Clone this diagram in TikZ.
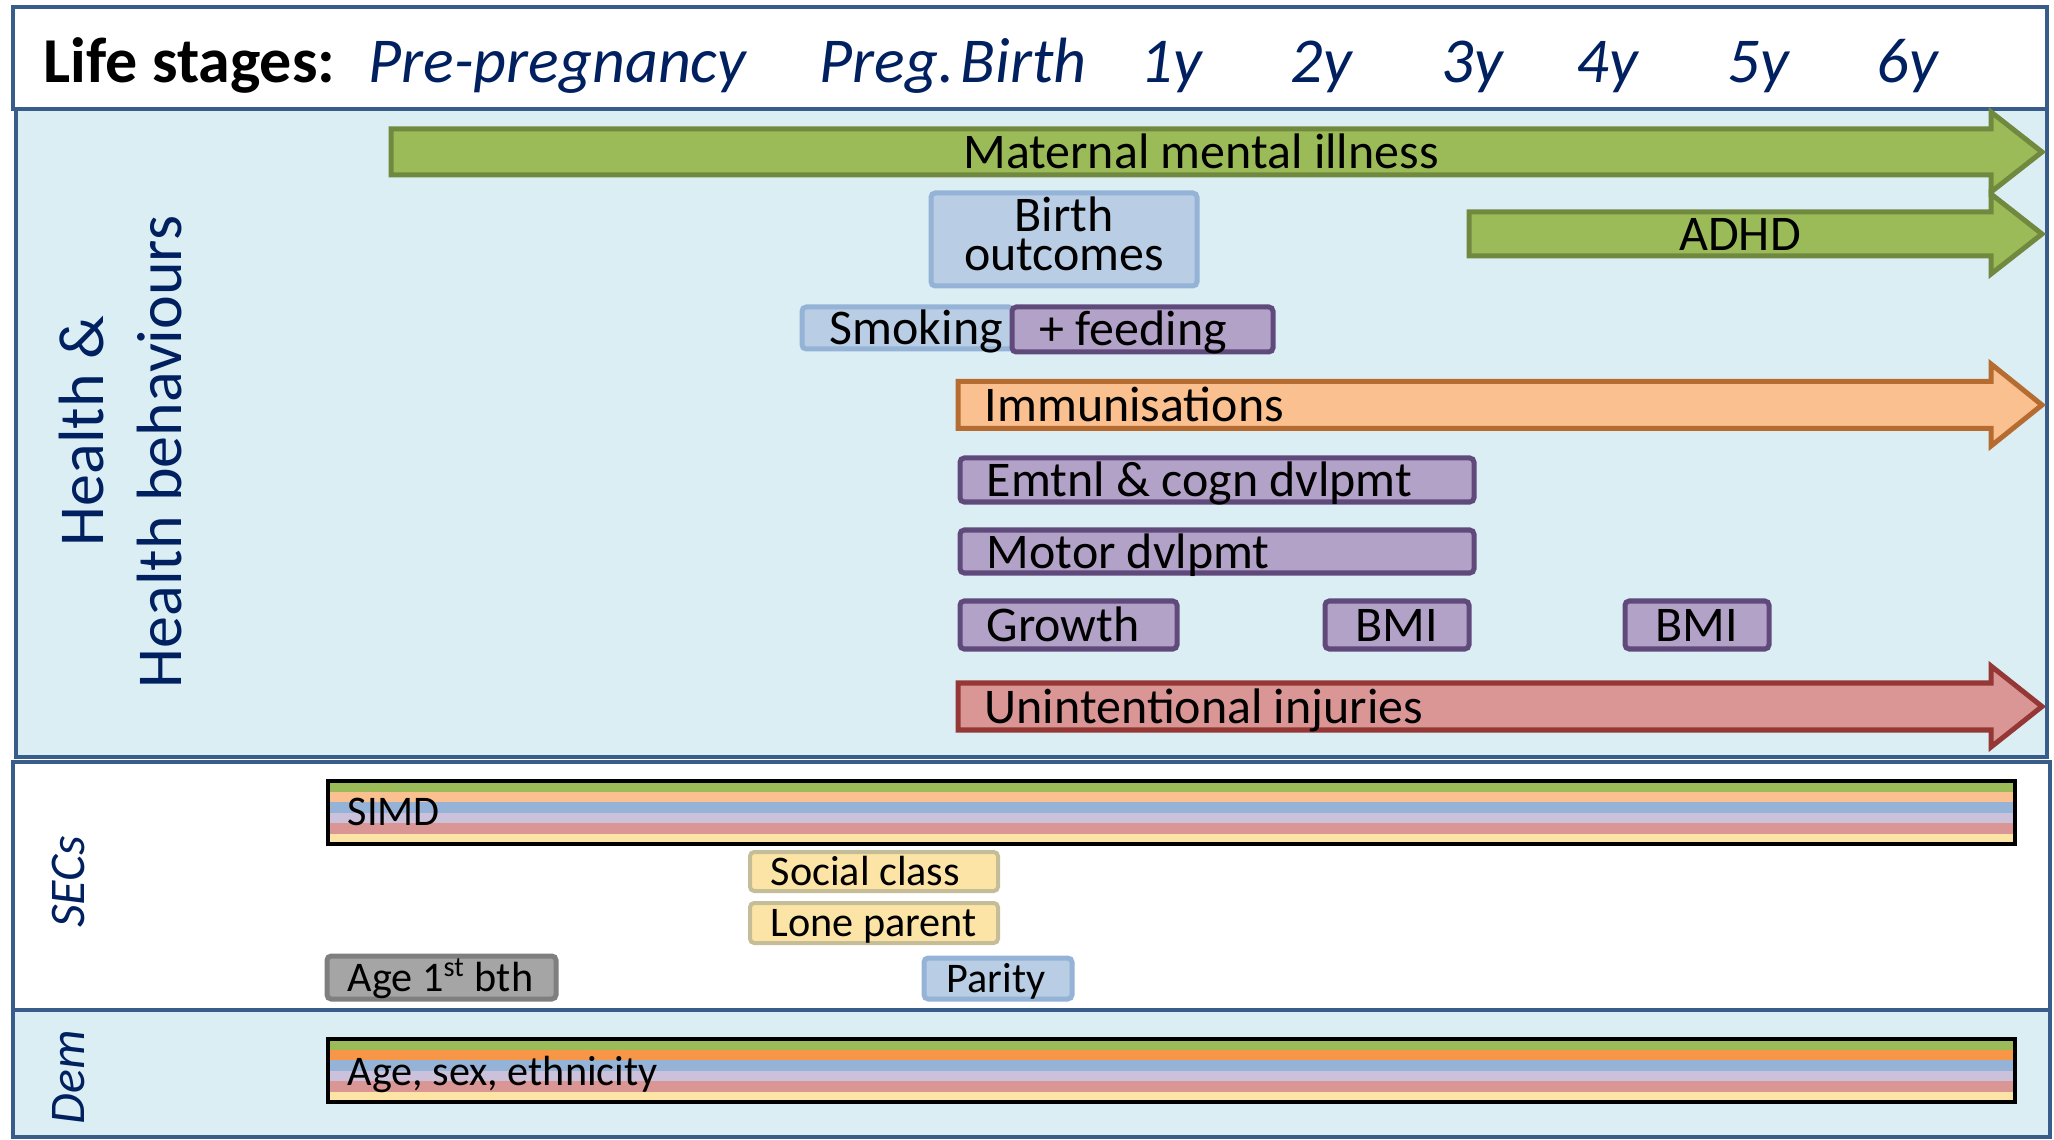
\documentclass[tikz,border=0pt]{standalone}
\usepackage{fontspec}
\setmainfont{Carlito}

\definecolor{frameblue}{RGB}{56,93,138}
\definecolor{panelblue}{RGB}{219,238,244}
\definecolor{navy}{RGB}{0,32,96}
\definecolor{grfill}{RGB}{155,187,89}
\definecolor{grline}{RGB}{113,137,63}
\definecolor{orfill}{RGB}{250,192,144}
\definecolor{orline}{RGB}{182,108,49}
\definecolor{orstrong}{RGB}{247,150,70}
\definecolor{pufill}{RGB}{179,162,199}
\definecolor{puline}{RGB}{96,74,123}
\definecolor{lavender}{RGB}{204,193,218}
\definecolor{blfill}{RGB}{185,205,229}
\definecolor{blline}{RGB}{149,179,215}
\definecolor{rdfill}{RGB}{217,150,148}
\definecolor{rdline}{RGB}{149,55,53}
\definecolor{yefill}{RGB}{252,228,166}
\definecolor{yeline}{RGB}{196,189,151}
\definecolor{gyfill}{RGB}{165,165,165}
\definecolor{gyline}{RGB}{127,127,127}

\newcommand\bigtxt{\fontsize{18.2}{22}\selectfont}
\newcommand\midtxt{\fontsize{14.2}{17}\selectfont}
\newcommand\tighttxt{\fontsize{14.2}{11.2}\selectfont}
\newcommand\smalltxt{\fontsize{12}{14}\selectfont}

% block arrow: style, x-left, x-neck, x-tip, y-centre, body half-height, head half-height
\newcommand\blockarrow[7]{%
  \draw[#1] (#2,#5-#6) -- (#3,#5-#6) -- (#3,#5-#7) -- (#4,#5)
    -- (#3,#5+#7) -- (#3,#5+#6) -- (#2,#5+#6) -- cycle;}

\begin{document}
\begin{tikzpicture}[x=0.01cm,y=-0.01cm,
  panel/.style={draw=frameblue,line width=0.04cm},
  arrowbox/.style={line width=0.05cm,line join=miter},
  tagbox/.style={line width=0.05cm,rounded corners=1.2pt},
  htxt/.style={inner sep=0pt,text height=0.42cm,text depth=0pt,font=\bigtxt},
  mtxt/.style={inner sep=0pt,text height=0.33cm,text depth=0pt,font=\midtxt},
  stxt/.style={inner sep=0pt,text height=0.277cm,text depth=0pt,font=\smalltxt},
  stage/.style={htxt,anchor=base west,text=navy,font=\bigtxt\itshape}]
\useasboundingbox (0,0) rectangle (2054,1140);

% ---- panels ----
\draw[panel,fill=white] (13,7) rectangle (2047,109);
\draw[panel,fill=panelblue] (16,109) rectangle (2047,757);
\draw[panel,fill=white] (13,762) rectangle (2050,1010);
\draw[panel,fill=panelblue] (13,1010) rectangle (2050,1137);

% ---- header ----
\node[htxt,anchor=base west,font=\bigtxt\bfseries] (hdr) at (43,83) {Life stages:};
\node[stage] (prepreg) at (368,83) {Pre-pregnancy};
\node[stage] (preg) at (819,83) {Preg.};
\node[stage] (birth) at (960,83) {Birth};
\node[stage] (y1) at (1140,83) {1y};
\node[stage] (y2) at (1290,83) {2y};
\node[stage] (y3) at (1441,83) {3y};
\node[stage] (y4) at (1576,83) {4y};
\node[stage] (y5) at (1727,83) {5y};
\node[stage] (y6) at (1876,83) {6y};

% ---- side labels ----
\node[htxt,rotate=90,text=navy] (lblA) at (82,431) {Health \&};
\node[htxt,rotate=90,text=navy] (lblB) at (160,452) {Health behaviours};
\node[mtxt,rotate=90,text=navy,font=\midtxt\itshape] (lblsec) at (68,882) {SECs};
\node[mtxt,rotate=90,text=navy,font=\midtxt\itshape] (lbldem) at (68,1077) {Dem};

% ---- health & health behaviours ----
\blockarrow{arrowbox,fill=grfill,draw=grline}{391}{1991}{2042}{152}{23}{40}
\node[mtxt] (mmi) at (1201,152) {Maternal mental illness};

\blockarrow{arrowbox,fill=grfill,draw=grline}{1469}{1991}{2042}{234}{22}{40}
\node[mtxt] (adhd) at (1740,234) {ADHD};

\draw[tagbox,fill=blfill,draw=blline] (931,193) rectangle (1197,286);
\node[inner sep=0pt,align=center,font=\tighttxt] (bo) at (1064,234) {Birth\\outcomes};

\draw[tagbox,fill=blfill,draw=blline] (802,307) rectangle (1013,349);
\node[mtxt,anchor=west] (smk) at (829,328) {Smoking};
\draw[tagbox,fill=pufill,draw=puline] (1012,307) rectangle (1273,352);
\node[mtxt,anchor=west] (feed) at (1039,329) {+ feeding};

\blockarrow{arrowbox,fill=orfill,draw=orline}{958}{1991}{2042}{405}{23.5}{41}
\node[mtxt,anchor=west] (imm) at (984,405) {Immunisations};

\draw[tagbox,fill=pufill,draw=puline] (960,458) rectangle (1474,502);
\node[mtxt,anchor=west] (emo) at (986,480) {Emtnl \& cogn dvlpmt};

\draw[tagbox,fill=pufill,draw=puline] (960,530) rectangle (1474,573);
\node[mtxt,anchor=west] (mot) at (986,552) {Motor dvlpmt};

\draw[tagbox,fill=pufill,draw=puline] (960,601) rectangle (1177,649);
\node[mtxt,anchor=west] (grw) at (986,625) {Growth};
\draw[tagbox,fill=pufill,draw=puline] (1325,601) rectangle (1469,649);
\node[mtxt] (bmiA) at (1397,625) {BMI};
\draw[tagbox,fill=pufill,draw=puline] (1625,601) rectangle (1769,649);
\node[mtxt] (bmiB) at (1697,625) {BMI};

\blockarrow{arrowbox,fill=rdfill,draw=rdline}{958}{1991}{2042}{706.5}{23.5}{40.5}
\node[mtxt,anchor=west] (inj) at (984,707) {Unintentional injuries};

% ---- socio-economic circumstances ----
\foreach \c [count=\i from 0] in {grfill,orfill,blline,lavender,rdfill,yefill}
  \fill[\c] (328,781+\i*10.5) rectangle (2015,781+\i*10.5+10.5);
\draw[line width=0.045cm] (328,781) rectangle (2015,844);
\node[stxt,anchor=west] (simd) at (347,812) {SIMD};

\draw[tagbox,fill=yefill,draw=yeline,line width=0.04cm] (750,852) rectangle (998,891);
\node[stxt,anchor=west] (soc) at (770,872) {Social class};
\draw[tagbox,fill=yefill,draw=yeline,line width=0.04cm] (750,903) rectangle (998,943);
\node[stxt,anchor=west] (lone) at (770,923) {Lone parent};

\draw[tagbox,fill=gyfill,draw=gyline] (327,956) rectangle (556,999);
\node[stxt,anchor=west] (age1) at (347,978) {Age 1\textsuperscript{st} bth};

\draw[tagbox,fill=blfill,draw=blline] (924,958) rectangle (1072,999);
\node[stxt] (par) at (996,979) {Parity};

% ---- demographics ----
\foreach \c [count=\i from 0] in {grfill,orstrong,blline,lavender,rdfill,yefill}
  \fill[\c] (328,1039+\i*10.5) rectangle (2015,1039+\i*10.5+10.5);
\draw[line width=0.045cm] (328,1039) rectangle (2015,1102);
\node[stxt,anchor=west] (dem) at (347,1072) {Age, sex, ethnicity};

\end{tikzpicture}
\end{document}
